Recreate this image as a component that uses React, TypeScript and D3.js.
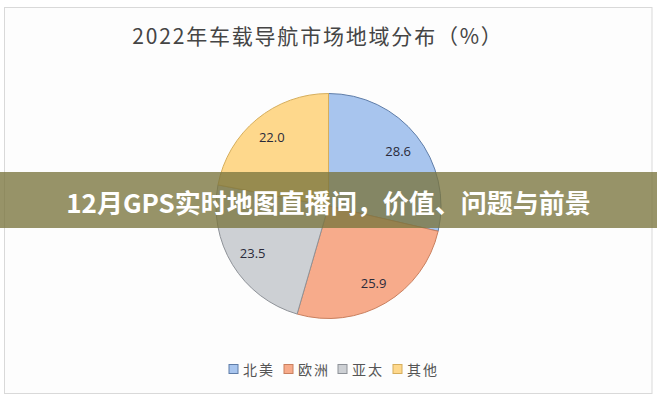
import React from "react";
import * as d3 from "d3";

const categories = ["北美", "欧洲", "亚太", "其他"];
const values = [28.6, 25.9, 23.5, 22.0];
const labels = ["28.6", "25.9", "23.5", "22.0"];
const fills = ["#a8c5ee", "#f7ab8b", "#cdd0d4", "#fed88c"];
const strokes = ["#5f7da8", "#c9805f", "#8e9298", "#d6ae5c"];
const title = "2022年车载导航市场地域分布（%）";
const banner = "12月GPS实时地图直播间，价值、问题与前景";

const W = 657;
const H = 400;
const cx = 328.5;
const cy = 206;
const R = 112.5;
const fontCJK = "'Noto Sans CJK SC', 'Noto Sans', sans-serif";

export default function App() {
  const pie = d3.pie<number>().sort(null).value((d) => d);
  const arcs = pie(values);
  const arcGen = d3.arc<d3.PieArcDatum<number>>().innerRadius(0).outerRadius(R);
  const labelArc = d3.arc<d3.PieArcDatum<number>>().innerRadius(89).outerRadius(89);

  const legendX = [229, 284, 338, 393];

  return (
    <svg
      width={W}
      height={H}
      style={{ position: "absolute", left: 0, top: 0, background: "#ffffff" }}
    >
      <rect x={0} y={0} width={W} height={H} fill="#ffffff" />
      <rect x={4.5} y={7.5} width={647.5} height={386} fill="#fdfdfd" stroke="#d9d9d9" strokeWidth={1} />
      <text
        x={318}
        y={44}
        textAnchor="middle"
        fontFamily={fontCJK}
        fontSize={21}
        fill="#454545"
        letterSpacing={1.8}
      >
        {title}
      </text>
      <g transform={`translate(${cx},${cy})`}>
        {arcs.map((a, i) => (
          <path key={i} d={arcGen(a) || ""} fill={fills[i]} stroke={strokes[i]} strokeWidth={1} />
        ))}
        {arcs.map((a, i) => {
          const [x, y] = labelArc.centroid(a);
          return (
            <text
              key={"l" + i}
              x={x}
              y={y}
              textAnchor="middle"
              dominantBaseline="central"
              fontFamily="'Open Sans', 'DejaVu Sans', sans-serif"
              fontSize={13}
              fill="#2a2a3a"
            >
              {labels[i]}
            </text>
          );
        })}
      </g>
      {categories.map((c, i) => (
        <g key={"lg" + i} transform={`translate(${legendX[i]},${369})`}>
          <rect x={0} y={-4.5} width={9} height={9} fill={fills[i]} stroke={strokes[i]} strokeWidth={1} />
          <text
            x={14}
            y={0}
            dominantBaseline="central"
            fontFamily={fontCJK}
            fontSize={14}
            fill="#555555"
            letterSpacing={2}
          >
            {c}
          </text>
        </g>
      ))}
      <rect x={0} y={172} width={W} height={56} fill="rgb(122,117,62)" opacity={0.78} />
      <text
        x={cx}
        y={201}
        textAnchor="middle"
        dominantBaseline="central"
        fontFamily={fontCJK}
        fontWeight="bold"
        fontSize={26}
        fill="#ffffff"
      >
        {banner}
      </text>
    </svg>
  );
}
